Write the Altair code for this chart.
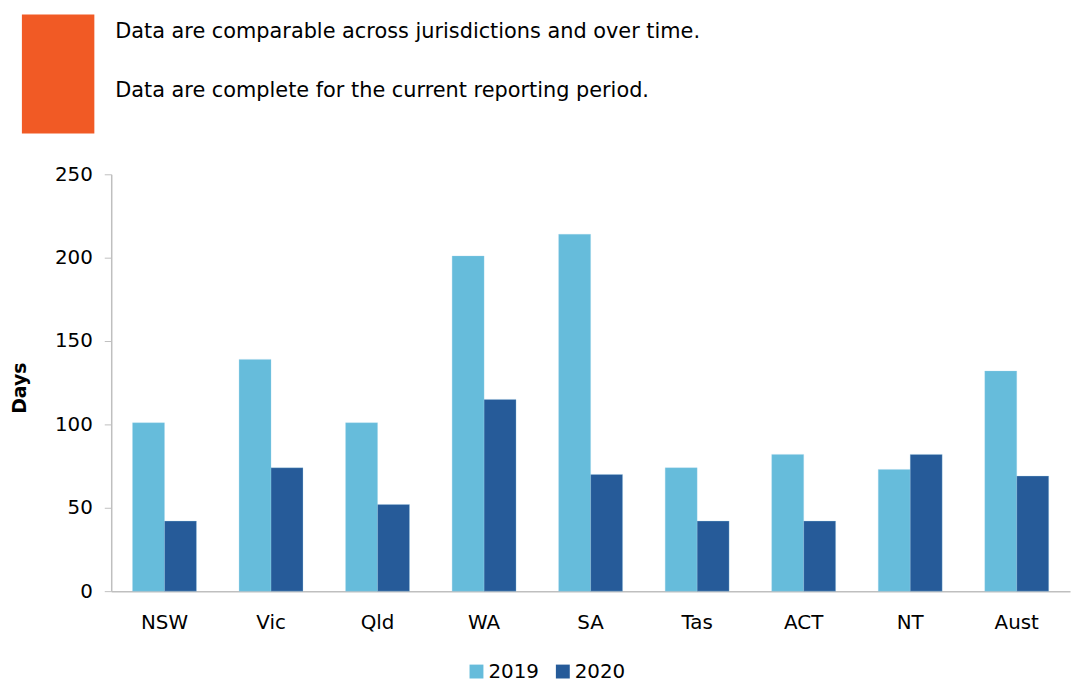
import altair as alt
import pandas as pd

jurisdictions = ["NSW", "Vic", "Qld", "WA", "SA", "Tas", "ACT", "NT", "Aust"]
values_2019 = [101, 139, 101, 201, 214, 74, 82, 73, 132]
values_2020 = [42, 74, 52, 115, 70, 42, 42, 82, 69]
years = ["2019", "2020"]
colors = ["#66BCDB", "#265B99"]
header_lines = [
    "Data are comparable across jurisdictions and over time.",
    "Data are complete for the current reporting period.",
]

rows = []
for j, a, b in zip(jurisdictions, values_2019, values_2020):
    rows.append({"Jurisdiction": j, "Year": years[0], "Days": a})
    rows.append({"Jurisdiction": j, "Year": years[1], "Days": b})
df = pd.DataFrame(rows)

FONT = "DejaVu Sans"

bars = alt.Chart(df).mark_bar(stroke="#9FD3EA", strokeWidth=0.5, strokeOpacity=0.6).encode(
    x=alt.X("Jurisdiction:N", sort=jurisdictions,
            scale=alt.Scale(paddingInner=0.4, paddingOuter=0.2),
            axis=alt.Axis(title=None, labelAngle=0, labelFontSize=20, labelFont=FONT,
                          labelColor="#000000", labelPadding=22, ticks=False,
                          domainColor="#BFBFBF", domainWidth=1.5)),
    xOffset=alt.XOffset("Year:N", sort=years, scale=alt.Scale(paddingInner=0, paddingOuter=0)),
    y=alt.Y("Days:Q", scale=alt.Scale(domain=[0, 250]),
            axis=alt.Axis(values=[0, 50, 100, 150, 200, 250], grid=False, title="Days",
                          titleFont=FONT, titleFontSize=19, titleFontWeight="bold",
                          titleColor="#000000", titleX=-92, titleY=215, titleAngle=270,
                          titleBaseline="middle", titleAlign="center",
                          labelFontSize=20, labelFont=FONT, labelColor="#000000",
                          labelPadding=12, tickSize=7, tickColor="#BFBFBF",
                          domainColor="#BFBFBF", domainWidth=1.5)),
    color=alt.Color("Year:N", sort=years, scale=alt.Scale(domain=years, range=colors),
                    legend=alt.Legend(title=None, orient="none", direction="horizontal",
                                      legendX=358, legendY=491, symbolType="square",
                                      symbolSize=196, symbolStrokeWidth=0,
                                      symbolOpacity=1, labelFontSize=20, labelFont=FONT,
                                      labelColor="#000000", labelOffset=2,
                                      columnPadding=14)),
)

orange = alt.Chart(pd.DataFrame({"k": [0]})).mark_rect(color="#F15A25").encode(
    x=alt.value(-90), x2=alt.value(-17), y=alt.value(-161), y2=alt.value(-41)
)

text1 = alt.Chart(pd.DataFrame({"line": [header_lines[0]]})).mark_text(
    align="left", baseline="middle", font=FONT, fontSize=21, color="#000000"
).encode(text="line:N", x=alt.value(4), y=alt.value(-143))

text2 = alt.Chart(pd.DataFrame({"line": [header_lines[1]]})).mark_text(
    align="left", baseline="middle", font=FONT, fontSize=21, color="#000000"
).encode(text="line:N", x=alt.value(4), y=alt.value(-84))

chart = alt.layer(bars, orange, text1, text2).properties(
    width=966, height=420,
    padding={"left": 104, "top": 165, "right": 2, "bottom": 90},
    autosize=alt.AutoSizeParams(type="none"),
).configure(font=FONT, view=alt.ViewConfig(stroke=None))

chart.save("out.html", embed_options={"renderer": "svg", "actions": False})
